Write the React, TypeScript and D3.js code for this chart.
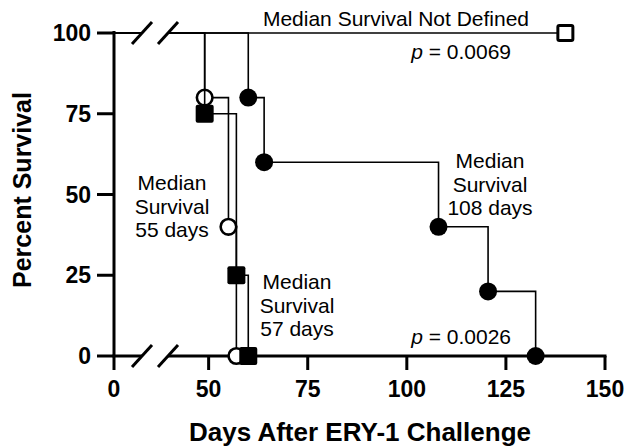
import React, { useEffect, useRef } from "react";
import * as d3 from "d3";

// survival data (days, percent)
const openCircleDays = [0, 49, 55, 57];
const openCircleSurvival = [100, 80, 40, 0];
const closedSquareDays = [0, 49, 57, 60];
const closedSquareSurvival = [100, 75, 25, 0];
const closedCircleDays = [0, 60, 64, 108, 120.5, 132.5];
const closedCircleSurvival = [100, 80, 60, 40, 20, 0];
const openSquareDays = [0, 140];
const openSquareSurvival = [100, 100];

const xTicks = [0, 50, 75, 100, 125, 150];
const yTicks = [0, 25, 50, 75, 100];

const labelNotDefined = "Median Survival Not Defined";
const median55 = ["Median", "Survival", "55 days"];
const median57 = ["Median", "Survival", "57 days"];
const median108 = ["Median", "Survival", "108 days"];
const pTop = "0.0069";
const pBottom = "0.0026";

const FONT = "'Liberation Sans', Arial, sans-serif";

const drawChart = (node: SVGSVGElement) => {
  const svg = d3.select(node);
  svg.selectAll("*").remove();

  // broken x axis: 0..7 then 40..150
  const x = d3.scaleLinear().domain([0, 7, 40, 150]).range([114, 142, 169, 605]);
  const y = d3.scaleLinear().domain([0, 100]).range([356, 33]);
  const gapL = x(7);
  const gapR = x(40) - 1;

  const defs = svg.append("defs");
  const clip = defs.append("clipPath").attr("id", "brk");
  clip.append("rect").attr("x", 0).attr("y", 0).attr("width", gapL).attr("height", 447);
  clip.append("rect").attr("x", gapR).attr("y", 0).attr("width", 624 - gapR).attr("height", 447);

  // axes
  const axis = svg.append("g").attr("stroke", "#000").attr("stroke-width", 3).attr("fill", "none");
  axis.append("line").attr("x1", 114).attr("x2", 114).attr("y1", y(0)).attr("y2", y(100) - 2);
  axis.append("line").attr("x1", 112.5).attr("x2", gapL).attr("y1", y(0)).attr("y2", y(0));
  axis.append("line").attr("x1", gapR).attr("x2", x(150) + 1.5).attr("y1", y(0)).attr("y2", y(0));
  yTicks.forEach(t => {
    axis.append("line").attr("x1", 97).attr("x2", 114).attr("y1", y(t)).attr("y2", y(t));
  });
  xTicks.forEach(t => {
    axis.append("line").attr("x1", x(t)).attr("x2", x(t)).attr("y1", y(0)).attr("y2", y(0) + 14);
  });

  // break slashes on axis and on the 100% line
  [y(0), y(100)].forEach(cy => {
    [gapL, gapR].forEach(cx => {
      axis.append("line")
        .attr("x1", cx - 10).attr("y1", cy + 11)
        .attr("x2", cx + 10).attr("y2", cy - 11);
    });
  });

  // tick labels
  const lab = svg.append("g").attr("font-family", FONT).attr("font-weight", "bold").attr("font-size", 23).attr("fill", "#000");
  yTicks.forEach(t => {
    lab.append("text").attr("x", 91).attr("y", y(t) + 8).attr("text-anchor", "end").text(t);
  });
  xTicks.forEach(t => {
    lab.append("text").attr("x", x(t)).attr("y", 397).attr("text-anchor", "middle").text(t);
  });

  svg.append("text")
    .attr("transform", "translate(31,190) rotate(-90)")
    .attr("text-anchor", "middle")
    .attr("font-family", FONT).attr("font-weight", "bold").attr("font-size", 25)
    .text("Percent Survival");
  svg.append("text")
    .attr("x", 360).attr("y", 441)
    .attr("text-anchor", "middle")
    .attr("font-family", FONT).attr("font-weight", "bold").attr("font-size", 26)
    .text("Days After ERY-1 Challenge");

  const line = d3.line<[number, number]>()
    .x(d => x(d[0]))
    .y(d => y(d[1]))
    .curve(d3.curveStepAfter);

  const series = [
    { days: closedCircleDays, surv: closedCircleSurvival, shape: "circle", filled: true },
    { days: openSquareDays, surv: openSquareSurvival, shape: "square", filled: false },
    { days: openCircleDays, surv: openCircleSurvival, shape: "circle", filled: false },
    { days: closedSquareDays, surv: closedSquareSurvival, shape: "square", filled: true },
  ];

  series.forEach(s => {
    const pts = s.days.map((d, i) => [d, s.surv[i]] as [number, number]);
    svg.append("path")
      .attr("d", line(pts))
      .attr("clip-path", "url(#brk)")
      .attr("fill", "none")
      .attr("stroke", "#000")
      .attr("stroke-width", 1.6);

    const g = svg.append("g");
    pts.slice(1).forEach(p => {
      const cx = x(p[0]), cy = y(p[1]);
      if (s.shape === "circle") {
        if (s.filled) {
          g.append("circle").attr("cx", cx).attr("cy", cy).attr("r", 9).attr("fill", "#000");
        } else {
          g.append("circle").attr("cx", cx).attr("cy", cy).attr("r", 7.8)
            .attr("fill", "#fff").attr("stroke", "#000").attr("stroke-width", 2.6);
        }
      } else {
        if (s.filled) {
          g.append("rect").attr("x", cx - 9).attr("y", cy - 9).attr("width", 18).attr("height", 18)
            .attr("rx", 2).attr("fill", "#000");
        } else {
          g.append("rect").attr("x", cx - 7.5).attr("y", cy - 7.5).attr("width", 15).attr("height", 15)
            .attr("rx", 1.5).attr("fill", "#fff").attr("stroke", "#000").attr("stroke-width", 3);
        }
      }
    });
  });

  // annotations
  const ann = svg.append("g").attr("font-family", FONT).attr("font-size", 21).attr("fill", "#000");
  ann.append("text").attr("x", 396).attr("y", 26).attr("text-anchor", "middle").text(labelNotDefined);

  const pText = (py: number, val: string) => {
    const t = ann.append("text").attr("x", 511).attr("y", py).attr("text-anchor", "end");
    t.append("tspan").attr("font-style", "italic").text("p");
    t.append("tspan").text(" = " + val);
  };
  pText(59, pTop);
  pText(344, pBottom);

  const block = (lines: string[], cx: number, y0: number) => {
    lines.forEach((l, i) => {
      ann.append("text").attr("x", cx).attr("y", y0 + i * 23.5).attr("text-anchor", "middle").text(l);
    });
  };
  block(median55, 172, 190);
  block(median57, 297, 289);
  block(median108, 490, 168);
};

const App = () => {
  const ref = useRef<SVGSVGElement>(null);
  useEffect(() => {
    if (ref.current) drawChart(ref.current);
  });
  return (
    <svg
      ref={ref}
      width={624}
      height={447}
      style={{ position: "absolute", left: 0, top: 0, background: "#fff" }}
    />
  );
};

export default App;
